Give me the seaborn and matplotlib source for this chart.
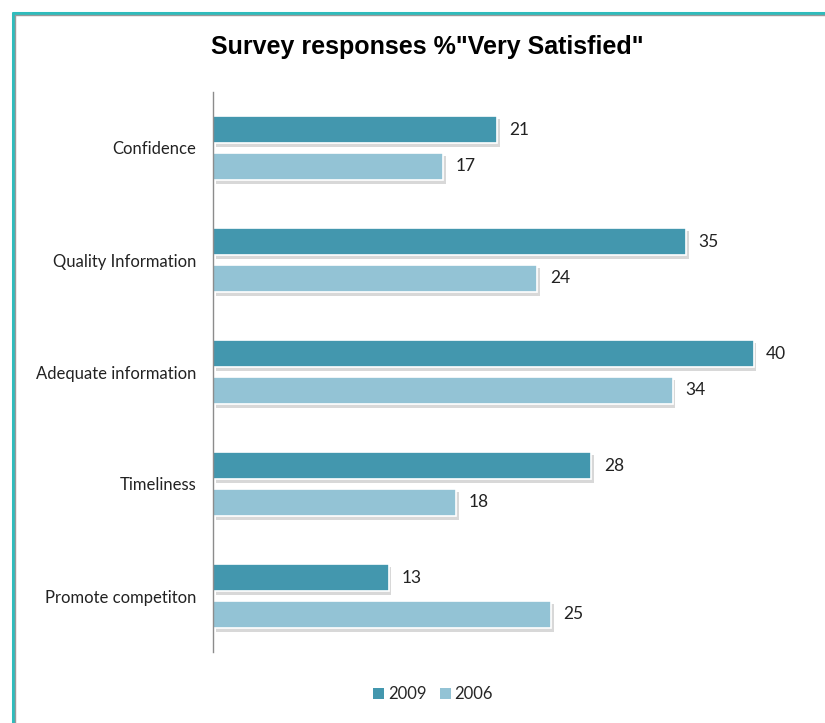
import matplotlib
matplotlib.use("Agg")
import matplotlib.pyplot as plt
import matplotlib.patheffects as pe
from matplotlib.lines import Line2D
import seaborn as sns
import pandas as pd

categories = ["Confidence", "Quality Information", "Adequate information",
              "Timeliness", "Promote competiton"]
values_2009 = [21, 35, 40, 28, 13]
values_2006 = [17, 24, 34, 18, 25]
years = ["2009", "2006"]
colors = ["#4397AE", "#93C3D5"]

df = pd.DataFrame({
    "category": categories * 2,
    "value": values_2009 + values_2006,
    "year": [years[0]] * len(categories) + [years[1]] * len(categories),
})

sns.set_theme(style="white")
label_font = ["Lato", "DejaVu Sans"]
plt.rcParams["font.family"] = label_font

fig = plt.figure(figsize=(8.25, 7.23), dpi=100)
ax = fig.add_axes([213 / 825, 1 - 652 / 723, (805 - 213) / 825, (652 - 92) / 723])

sns.barplot(data=df, x="value", y="category", hue="year", order=categories,
            hue_order=years, palette=colors, orient="h", width=0.66, gap=0.25,
            saturation=1, edgecolor="white", linewidth=1.2, ax=ax, legend=True)

ax.set_xlim(0, 43.8)
ax.set_ylim(4.5, -0.5)
ax.set_xlabel("")
ax.set_ylabel("")
ax.set_xticks([])
ax.tick_params(axis="y", length=0, pad=12, labelsize=12, labelcolor="#222222")
for lab in ax.get_yticklabels():
    lab.set_family(label_font)
for side in ["top", "right", "bottom"]:
    ax.spines[side].set_visible(False)
ax.spines["left"].set_color("#8c8c8c")
ax.spines["left"].set_linewidth(1.0)

leg = ax.legend(loc="center", bbox_to_anchor=(433 / 825, 1 - 694 / 723),
                bbox_transform=fig.transFigure, ncol=2, frameon=False,
                handlelength=0.65, handleheight=0.65, handletextpad=0.25,
                columnspacing=0.8, prop={"family": label_font, "size": 12})
for h in leg.legend_handles:
    h.set_path_effects([])
    h.set_edgecolor("none")

# soft drop shadow under each bar
shadow = [pe.SimplePatchShadow(offset=(2, -2.5), shadow_rgbFace="#808080", alpha=0.3),
          pe.Normal()]
for cont in ax.containers:
    for bar in cont:
        bar.set_path_effects(shadow)
    ax.bar_label(cont, labels=[f"{v:g}" for v in cont.datavalues], padding=9,
                 fontsize=12.5, color="#222222", family=label_font)

fig.text(427 / 825, 1 - 47 / 723, 'Survey responses %"Very Satisfied"',
         ha="center", va="center", fontsize=18, fontweight="bold",
         family=["Liberation Sans", "DejaVu Sans"], color="black")

# slide frame along the top and left edges
fig.add_artist(Line2D([12.5 / 825, 12.5 / 825], [0, 1 - 12.5 / 723],
                      transform=fig.transFigure, color="#2fbcbc", lw=2.2))
fig.add_artist(Line2D([12.5 / 825, 1], [1 - 12.5 / 723, 1 - 12.5 / 723],
                      transform=fig.transFigure, color="#2fbcbc", lw=2.2))
fig.add_artist(Line2D([15 / 825, 15 / 825], [0, 1 - 15 / 723],
                      transform=fig.transFigure, color="#9a9a9a", lw=1))
fig.add_artist(Line2D([15 / 825, 1], [1 - 15 / 723, 1 - 15 / 723],
                      transform=fig.transFigure, color="#9a9a9a", lw=1))

fig.savefig("out.png", dpi=100)
